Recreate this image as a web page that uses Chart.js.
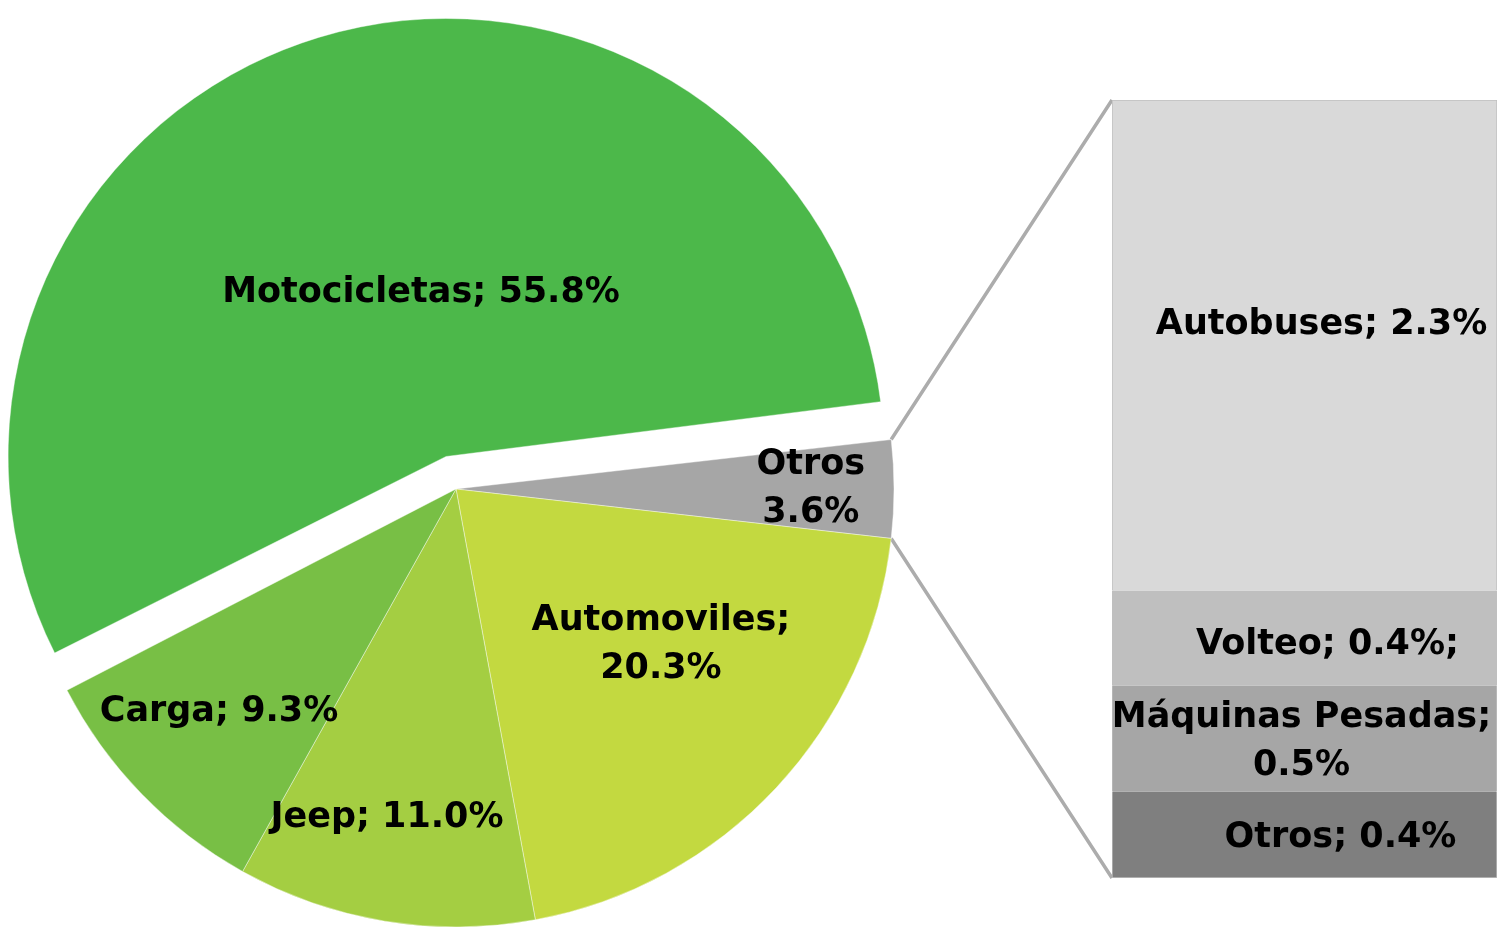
<!DOCTYPE html>
<html>
<head>
  <meta charset="utf-8">
  <title>Vehículos por tipo</title>
  <script src="https://cdn.jsdelivr.net/npm/chart.js@4.4.0/dist/chart.umd.min.js"></script>
  <style>
    body {
      margin: 0;
      background: #fff;
      overflow: hidden;
    }
    #pieChart { position: absolute; left: 0; top: 0; }
    #barChart { position: absolute; left: 1112px; top: 100px; }
  </style>
</head>
<body>
  <canvas id="pieChart" width="1499" height="930"></canvas>
  <canvas id="barChart" width="385" height="778"></canvas>

  <script>
    // pie slices, Otros first so it sits at 3 o'clock
    const pieLabels = ['Otros', 'Automoviles', 'Jeep', 'Carga', 'Motocicletas'];
    const pieValues = [3.6, 20.3, 11.0, 9.3, 55.8];
    const pieText = [['Otros', '3.6%'], ['Automoviles;', '20.3%'], ['Jeep; 11.0%'], ['Carga; 9.3%'], ['Motocicletas; 55.8%']];

    // breakdown of "Otros", bottom to top
    const barLabels = ['Otros', 'Máquinas Pesadas', 'Volteo', 'Autobuses'];
    const barValues = [0.40, 0.49, 0.44, 2.27];
    const barText = [['Otros; 0.4%'], ['Máquinas Pesadas;', '0.5%'], ['Volteo; 0.4%;'], ['Autobuses; 2.3%']];

    const pieColors = ['#a6a6a6', '#c3d940', '#a4ce42', '#78bf45', '#4cb84a'];
    const barColors = ['#7f7f7f', '#a6a6a6', '#bfbfbf', '#d9d9d9'];

    const LABEL_FONT = 'bold 35px "DejaVu Sans"';
    const LINE_H = 48;

    // [fraction of radius, angle nudge in degrees] for each pie label
    const pieLabelPos = [[0.81, 0], [0.588, -5.75], [0.767, 2.5], [0.743, 0.85], [0.378, 8.2]];
    // [dx, dy] from the centre of each bar segment
    const barLabelShift = [[36, 3], [-3, 3], [23, 7], [17, -20]];

    function drawLines(ctx, lines, x, y) {
      lines.forEach((t, k) => {
        ctx.fillText(t, x, y + (k - (lines.length - 1) / 2) * LINE_H);
      });
    }

    const barLabelPlugin = {
      id: 'barLabels',
      afterDatasetsDraw(chart) {
        const ctx = chart.ctx;
        ctx.save();
        ctx.font = LABEL_FONT;
        ctx.fillStyle = '#000';
        ctx.textAlign = 'center';
        ctx.textBaseline = 'middle';
        chart.data.datasets.forEach((ds, i) => {
          const bar = chart.getDatasetMeta(i).data[0];
          const cx = bar.x + barLabelShift[i][0];
          const cy = (bar.y + bar.base) / 2 + barLabelShift[i][1];
          drawLines(ctx, barText[i], cx, cy);
        });
        ctx.restore();
      }
    };

    const barChart = new Chart(document.getElementById('barChart'), {
      type: 'bar',
      data: {
        labels: ['Otros'],
        datasets: barLabels.map((name, i) => ({
          label: name,
          data: [barValues[i]],
          backgroundColor: barColors[i],
          borderColor: '#bfbfbf',
          borderWidth: 1,
          borderSkipped: 'middle',
          barPercentage: 1,
          categoryPercentage: 1
        }))
      },
      options: {
        responsive: false,
        animation: false,
        layout: { padding: 0 },
        scales: {
          x: { stacked: true, display: false },
          y: { stacked: true, display: false, min: 0, max: 3.6 }
        },
        plugins: {
          legend: { display: false },
          tooltip: { enabled: false }
        }
      },
      plugins: [barLabelPlugin]
    });

    // Chart.js also grows an offset slice wider than 180deg by offset/4;
    // take that back so the exploded slice keeps the same radius
    const keepRadiusPlugin = {
      id: 'keepRadius',
      afterDatasetsUpdate(chart) {
        chart.getDatasetMeta(0).data.forEach(arc => {
          const shift = (arc.options.offset || 0) / 4;
          if (shift && arc.circumference > Math.PI) {
            arc.outerRadius -= shift;
          }
        });
      }
    };

    // grey lines from the Otros slice to the bar
    const connectorPlugin = {
      id: 'connectors',
      beforeDatasetsDraw(chart) {
        const ctx = chart.ctx;
        const arc = chart.getDatasetMeta(0).data[0];
        const p = arc.getProps(['x', 'y', 'startAngle', 'endAngle', 'outerRadius']);
        const topBar = barChart.getDatasetMeta(barValues.length - 1).data[0];
        const lowBar = barChart.getDatasetMeta(0).data[0];
        const canvas = barChart.canvas;
        const left = canvas.offsetLeft + topBar.x - topBar.width / 2;
        ctx.save();
        ctx.strokeStyle = '#acacac';
        ctx.lineWidth = 3.5;
        ctx.beginPath();
        ctx.moveTo(p.x + Math.cos(p.startAngle) * p.outerRadius, p.y + Math.sin(p.startAngle) * p.outerRadius);
        ctx.lineTo(left, canvas.offsetTop + topBar.y);
        ctx.moveTo(p.x + Math.cos(p.endAngle) * p.outerRadius, p.y + Math.sin(p.endAngle) * p.outerRadius);
        ctx.lineTo(left, canvas.offsetTop + lowBar.base);
        ctx.stroke();
        ctx.restore();
      }
    };

    const pieLabelPlugin = {
      id: 'pieLabels',
      afterDatasetsDraw(chart) {
        const ctx = chart.ctx;
        const meta = chart.getDatasetMeta(0);
        const R = meta.controller.outerRadius;
        ctx.save();
        ctx.font = LABEL_FONT;
        ctx.fillStyle = '#000';
        ctx.textAlign = 'center';
        ctx.textBaseline = 'middle';
        meta.data.forEach((arc, i) => {
          const p = arc.getProps(['x', 'y', 'startAngle', 'endAngle']);
          const shift = (arc.options.offset || 0) / 4;
          const mid = (p.startAngle + p.endAngle) / 2;
          const a = mid + pieLabelPos[i][1] * Math.PI / 180;
          const r = R * pieLabelPos[i][0];
          const cx = p.x + Math.cos(mid) * shift + Math.cos(a) * r;
          const cy = p.y + Math.sin(mid) * shift + Math.sin(a) * r;
          drawLines(ctx, pieText[i], cx, cy);
        });
        ctx.restore();
      }
    };

    const pieChart = new Chart(document.getElementById('pieChart'), {
      type: 'pie',
      data: {
        labels: pieLabels,
        datasets: [{
          data: pieValues,
          backgroundColor: pieColors,
          borderColor: 'rgba(255,255,255,0.4)',
          borderWidth: 1,
          offset: [0, 0, 0, 0, 136]
        }]
      },
      options: {
        responsive: false,
        animation: false,
        rotation: 83.52,
        radius: 438,
        layout: { padding: { left: 0, right: 587, top: 48, bottom: 0 } },
        plugins: {
          legend: { display: false },
          tooltip: { enabled: false }
        }
      },
      plugins: [keepRadiusPlugin, connectorPlugin, pieLabelPlugin]
    });
  </script>
</body>
</html>
